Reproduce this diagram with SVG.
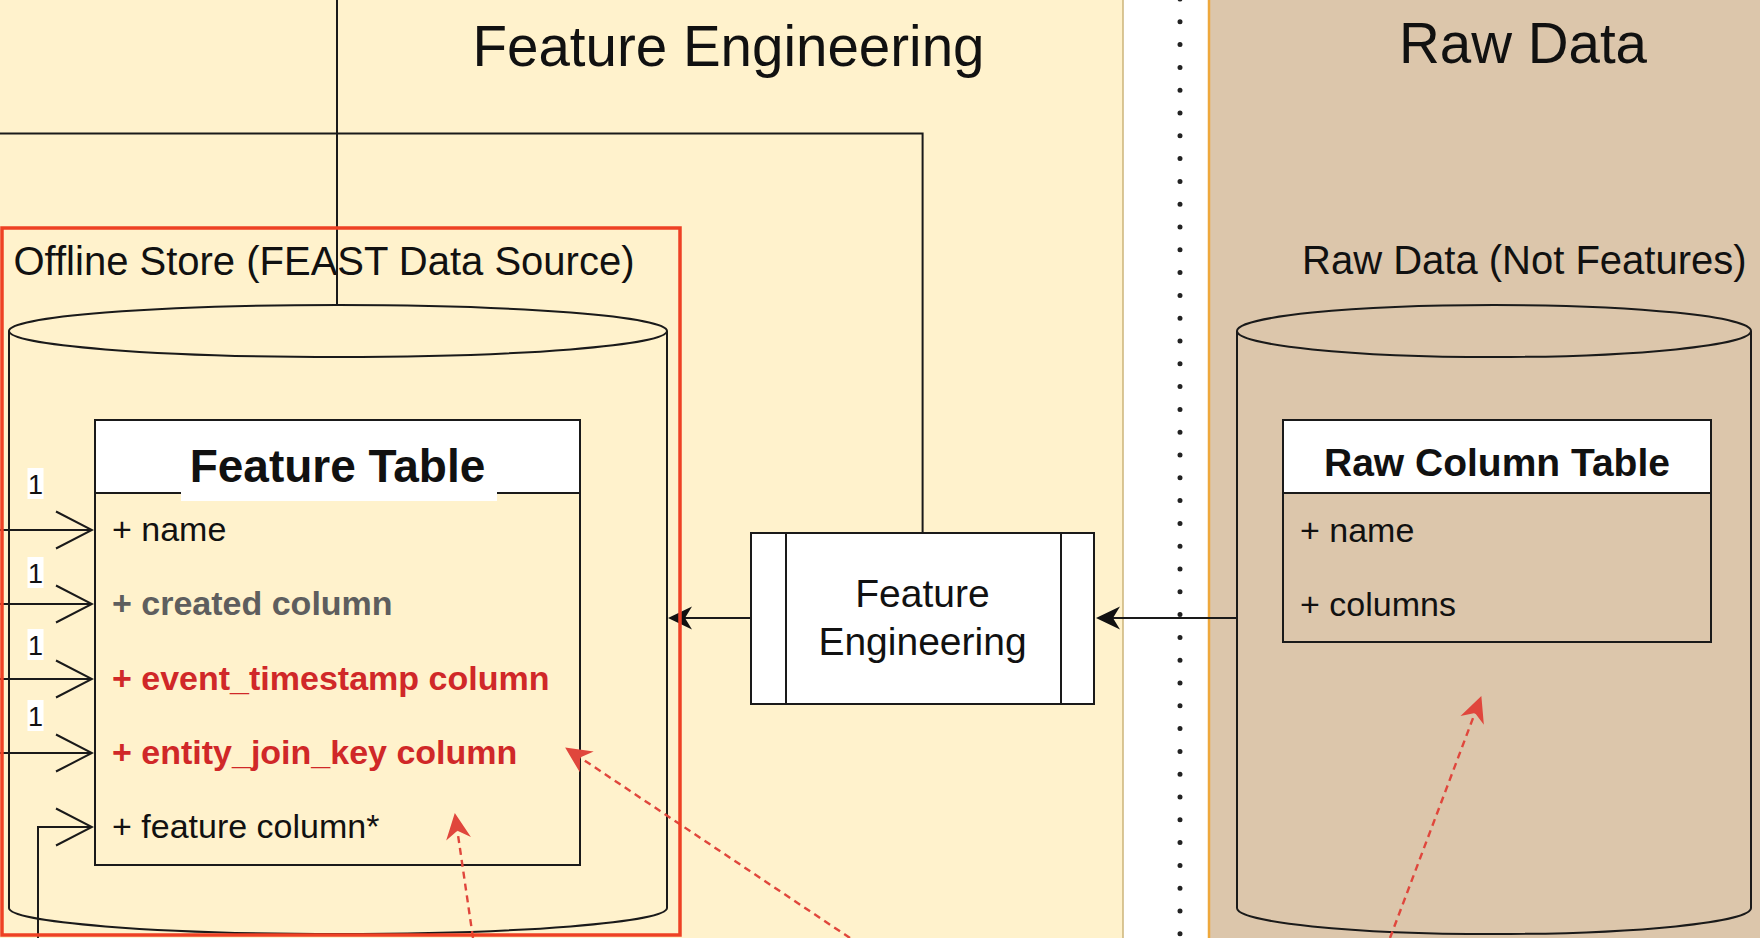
<svg xmlns="http://www.w3.org/2000/svg" width="1760" height="938" viewBox="0 0 1760 938">
<style>
text{font-family:"Liberation Sans",Arial,Helvetica,sans-serif;fill:#111}
.title{font-size:56.5px;text-anchor:middle}
.lbl{font-size:40px}
.row{font-size:34px}
.b{font-weight:bold}
.gray{fill:#5e5e5e}
.red{fill:#d02828}
.ln{fill:none;stroke:#1a1a1a;stroke-width:2}
.dash{fill:none;stroke:#e0463c;stroke-width:2.4;stroke-dasharray:7 5}
.one{font-size:27px;text-anchor:middle}
</style>
<defs>
<marker id="openArr" markerUnits="userSpaceOnUse" markerWidth="40" markerHeight="42" viewBox="-38 -20 40 40" refX="0" refY="0" orient="auto">
<path d="M-36,-18.5 L0,0 L-36,18.5" fill="none" stroke="#1a1a1a" stroke-width="2"/>
</marker>
<marker id="blkArr" markerUnits="userSpaceOnUse" markerWidth="30" markerHeight="30" viewBox="-10 -14 30 28" refX="0" refY="0" orient="auto">
<path d="M17,0 L-7,-11.5 L0,0 L-7,11.5 Z" fill="#111"/>
</marker>
<marker id="redArr" markerUnits="userSpaceOnUse" markerWidth="32" markerHeight="32" viewBox="-10 -15 32 30" refX="0" refY="0" orient="auto">
<path d="M18,0 L-8,-12.5 L0,0 L-8,12.5 Z" fill="#e0463c"/>
</marker>
</defs>

<g id="background">
<rect x="0" y="0" width="1760" height="938" fill="#ffffff"/>
<rect x="0" y="0" width="1123" height="938" fill="#fff2cc"/>
<line x1="1123" y1="0" x2="1123" y2="938" stroke="#cdb57a" stroke-width="1.5"/>
<rect x="1209" y="0" width="551" height="938" fill="#dcc6ab"/>
<line x1="1209" y1="0" x2="1209" y2="938" stroke="#eea83c" stroke-width="2.5"/>
<path d="M1180,-1 V940" fill="none" stroke="#222" stroke-width="5" stroke-linecap="round" stroke-dasharray="0 22.8"/>
</g>

<g id="titles">
<text class="title" x="728.5" y="66">Feature Engineering</text>
<text class="title" x="1523" y="63">Raw Data</text>
</g>

<g id="offline-store">
<text class="lbl" x="13.5" y="275">Offline Store (FEAST Data Source)</text>
<path class="ln" d="M9,331 A329,26 0 0 1 667,331 V908 A329,26 0 0 1 9,908 Z"/>
<path class="ln" d="M9,331 A329,26 0 0 0 667,331"/>
</g>

<g id="feature-table">
<rect x="95" y="420" width="485" height="73" fill="#ffffff"/>
<rect x="181" y="492" width="316" height="9" fill="#ffffff"/>
<rect class="ln" x="95" y="420" width="485" height="445"/>
<line class="ln" x1="95" y1="493" x2="181" y2="493"/>
<line class="ln" x1="497" y1="493" x2="580" y2="493"/>
<text class="b" x="337.5" y="482" font-size="46" text-anchor="middle">Feature Table</text>
<text class="row" x="112" y="541">+ name</text>
<text class="row b gray" x="112" y="615">+ created column</text>
<text class="row b red" x="112" y="690">+ event_timestamp column</text>
<text class="row b red" x="112" y="764">+ entity_join_key column</text>
<text class="row" x="112" y="838">+ feature column*</text>
</g>

<g id="raw-data-store">
<text class="lbl" x="1302" y="274">Raw Data (Not Features)</text>
<path class="ln" d="M1237,331 A257,26 0 0 1 1751,331 V908 A257,26 0 0 1 1237,908 Z"/>
<path class="ln" d="M1237,331 A257,26 0 0 0 1751,331"/>
</g>

<g id="raw-column-table">
<rect x="1283" y="420" width="428" height="73" fill="#ffffff"/>
<rect class="ln" x="1283" y="420" width="428" height="222"/>
<line class="ln" x1="1283" y1="493" x2="1711" y2="493"/>
<text class="b" x="1497" y="476" font-size="39" text-anchor="middle">Raw Column Table</text>
<text class="row" x="1300" y="542">+ name</text>
<text class="row" x="1300" y="616">+ columns</text>
</g>

<g id="feature-engineering-process">
<rect class="ln" x="751" y="533" width="343" height="171" style="fill:#ffffff"/>
<line class="ln" x1="786" y1="533" x2="786" y2="704"/>
<line class="ln" x1="1061" y1="533" x2="1061" y2="704"/>
<text x="922.5" y="607" font-size="39" text-anchor="middle">Feature</text>
<text x="922.5" y="655" font-size="39" text-anchor="middle">Engineering</text>
</g>

<g id="connectors">
<path class="ln" d="M337,0 V305"/>
<path class="ln" d="M922.6,533 V133.6 H0"/>
<path class="ln" d="M751,618 H685" marker-end="url(#blkArr)"/>
<path class="ln" d="M1237,618 H1113" marker-end="url(#blkArr)"/>
<path class="ln" d="M0,530 H92" marker-end="url(#openArr)"/>
<path class="ln" d="M0,604 H92" marker-end="url(#openArr)"/>
<path class="ln" d="M0,679 H92" marker-end="url(#openArr)"/>
<path class="ln" d="M0,753 H92" marker-end="url(#openArr)"/>
<path class="ln" d="M38,938 V827 H92" marker-end="url(#openArr)"/>
<g id="multiplicity-labels">
<rect x="27.5" y="468" width="16" height="31" fill="#ffffff"/>
<text class="one" x="35.5" y="494">1</text>
<rect x="27.5" y="557" width="16" height="31" fill="#ffffff"/>
<text class="one" x="35.5" y="583">1</text>
<rect x="27.5" y="629" width="16" height="31" fill="#ffffff"/>
<text class="one" x="35.5" y="655">1</text>
<rect x="27.5" y="700" width="16" height="31" fill="#ffffff"/>
<text class="one" x="35.5" y="726">1</text>
</g>
<path class="dash" d="M473,938 L457.4,830.8" marker-end="url(#redArr)"/>
<path class="dash" d="M850,938 L580.1,757.5" marker-end="url(#redArr)"/>
<path class="dash" d="M1390,938 L1475,712.9" marker-end="url(#redArr)"/>
</g>

<g id="highlight">
<rect x="2" y="228" width="678" height="707" fill="none" stroke="#ee4124" stroke-width="3.5"/>
</g>
</svg>
